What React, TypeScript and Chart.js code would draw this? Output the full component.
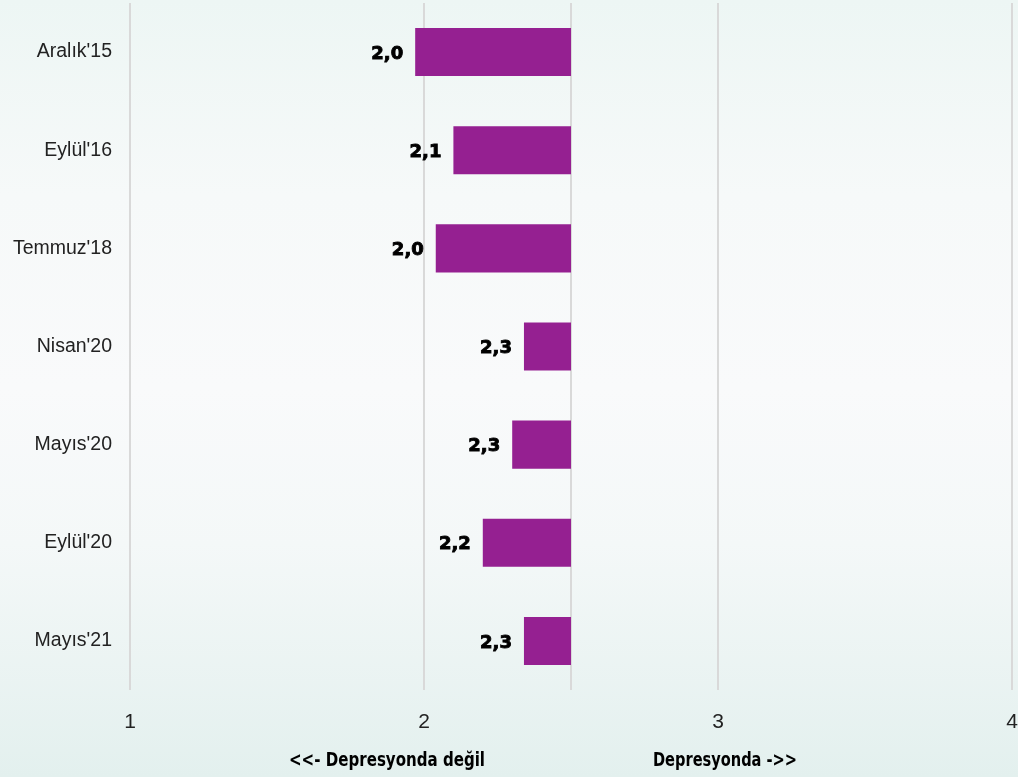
import React, { useEffect, useRef } from "react";
import { Chart, registerables } from "chart.js";

Chart.register(...registerables);

const categories = ["Aralık'15", "Eylül'16", "Temmuz'18", "Nisan'20", "Mayıs'20", "Eylül'20", "Mayıs'21"];
const values = [1.97, 2.10, 2.04, 2.34, 2.30, 2.20, 2.34];
const baseline = 2.5;
const xTicks = [1, 2, 3, 4];
const bottomLeftLabel = "<<- Depresyonda değil";
const bottomRightLabel = "Depresyonda ->>";

const BAR_COLOR = "#952091";
const GRID_COLOR = "#d9d9d9";

export default function App() {
  const ref = useRef<HTMLCanvasElement | null>(null);

  useEffect(() => {
    document.body.style.margin = "0";
    const canvas = ref.current;
    if (!canvas) return;

    const drawCondensed = (ctx: any, text: string, cx: number, cy: number, width: number) => {
      const w = ctx.measureText(text).width;
      const s = width / w;
      ctx.save();
      ctx.translate(cx, cy);
      ctx.scale(s, 1);
      ctx.fillText(text, 0, 0);
      ctx.restore();
    };

    const extras = {
      id: "extras",
      beforeDatasetsDraw(chart: any) {
        const { ctx, chartArea, scales } = chart;
        const x = scales.x.getPixelForValue(baseline);
        ctx.save();
        ctx.strokeStyle = GRID_COLOR;
        ctx.lineWidth = 2;
        ctx.beginPath();
        ctx.moveTo(x, chartArea.top);
        ctx.lineTo(x, chartArea.bottom);
        ctx.stroke();
        ctx.restore();
      },
      afterDatasetsDraw(chart: any) {
        const { ctx, scales } = chart;
        const meta = chart.getDatasetMeta(0);
        ctx.save();
        ctx.fillStyle = "#000";
        ctx.strokeStyle = "#000";
        ctx.lineWidth = 0.9;
        ctx.font = "bold 18px 'DejaVu Sans', sans-serif";
        ctx.textAlign = "right";
        ctx.textBaseline = "middle";
        meta.data.forEach((el: any, i: number) => {
          const px = scales.x.getPixelForValue(values[i]);
          const txt = values[i].toFixed(1).replace(".", ",");
          ctx.fillText(txt, px - 12, el.y + 2);
          ctx.strokeText(txt, px - 12, el.y + 2);
        });
        ctx.restore();
      },
      afterDraw(chart: any) {
        const { ctx } = chart;
        ctx.save();
        ctx.fillStyle = "#000";
        ctx.font = "bold 19px 'DejaVu Sans Condensed', 'DejaVu Sans', sans-serif";
        ctx.textAlign = "center";
        ctx.textBaseline = "middle";
        drawCondensed(ctx, bottomLeftLabel, 387, 761, 196);
        drawCondensed(ctx, bottomRightLabel, 725, 761, 144);
        ctx.restore();
      },
    };

    const chart = new Chart(canvas, {
      type: "bar",
      data: {
        labels: categories,
        datasets: [
          {
            data: values.map((v) => [baseline, v]) as any,
            backgroundColor: BAR_COLOR,
            borderWidth: 0,
            barPercentage: 0.49,
            categoryPercentage: 1,
          },
        ],
      },
      options: {
        indexAxis: "y",
        animation: false,
        responsive: false,
        maintainAspectRatio: false,
        layout: { padding: { top: 3, right: 6, left: 0, bottom: 0 } },
        plugins: { legend: { display: false }, tooltip: { enabled: false } },
        scales: {
          x: {
            type: "linear",
            min: 1,
            max: 4,
            afterBuildTicks(scale: any) {
              scale.ticks = xTicks.map((v) => ({ value: v }));
            },
            afterFit(scale: any) {
              scale.height = 87;
              scale.paddingLeft = 0;
              scale.paddingRight = 0;
            },
            grid: { color: GRID_COLOR, lineWidth: 2, drawTicks: false },
            border: { display: false },
            ticks: {
              padding: 20,
              color: "#222",
              font: { family: "'Liberation Sans', sans-serif", size: 21 },
            },
          },
          y: {
            afterFit(scale: any) {
              scale.width = 130;
              scale.paddingTop = 0;
              scale.paddingBottom = 0;
            },
            grid: { display: false },
            border: { display: false },
            ticks: {
              padding: 10,
              color: "#222",
              font: { family: "'Liberation Sans', sans-serif", size: 19.5 },
            },
          },
        },
      },
      plugins: [extras],
    });

    return () => chart.destroy();
  }, []);

  return (
    <div
      style={{
        width: 1018,
        height: 777,
        background:
          "linear-gradient(to bottom, #edf6f4 0%, #f6f9f9 25%, #f9fafb 50%, #f4f8f8 70%, #e3f0ee 100%)",
      }}
    >
      <canvas ref={ref} width={1018} height={777} style={{ display: "block" }} />
    </div>
  );
}
